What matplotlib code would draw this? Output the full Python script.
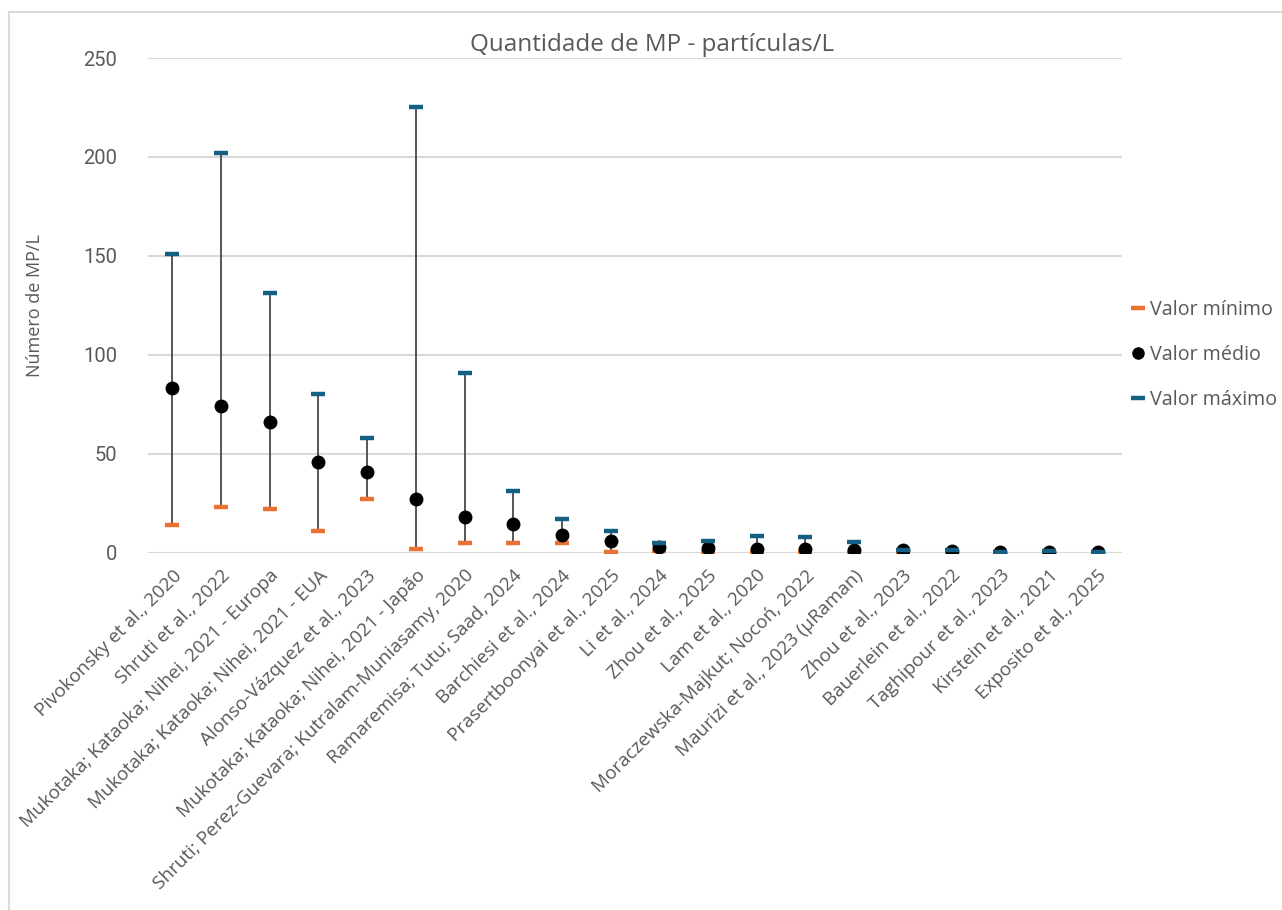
import matplotlib
matplotlib.use("Agg")
import matplotlib.pyplot as plt
from matplotlib.lines import Line2D
from matplotlib.patches import Rectangle

# Studies (one per category)
studies = [
    "Pivokonsky et al., 2020",
    "Shruti et al., 2022",
    "Mukotaka; Kataoka; Nihei, 2021 - Europa",
    "Mukotaka; Kataoka; Nihei, 2021 - EUA",
    "Alonso-Vázquez et al., 2023",
    "Mukotaka; Kataoka; Nihei, 2021 - Japão",
    "Shruti; Perez-Guevara; Kutralam-Muniasamy, 2020",
    "Ramaremisa; Tutu; Saad, 2024",
    "Barchiesi et al., 2024",
    "Prasertboonyai et al., 2025",
    "Li et al., 2024",
    "Zhou et al., 2025",
    "Lam et al., 2020",
    "Moraczewska-Majkut; Nocoń, 2022",
    "Maurizi et al., 2023 (µRaman)",
    "Zhou et al., 2023",
    "Bauerlein et al., 2022",
    "Taghipour et al., 2023",
    "Kirstein et al., 2021",
    "Exposito et al., 2025",
]

# MP particles per litre
valor_minimo = [14, 23, 22, 11, 27, 2, 5, 5, 5, 0.5, 1, 0.5, 0.2, 0.2, 0.2, 0.5, 0.5, 0.1, 0.1, 0.05]
valor_medio = [83, 74, 66, 46, 40.5, 27.3, 18, 14.3, 9, 6, 3, 2.5, 2, 2, 1.2, 1.3, 1, 0.3, 0.5, 0.2]
valor_maximo = [151, 202, 131, 80, 58, 225, 91, 31, 17, 11, 5, 5.8, 8.2, 8, 5.3, 1.5, 1.3, 0.3, 1, 0.3]

y_ticks = [0, 50, 100, 150, 200, 250]

TEXT = "#595959"
ORANGE = "#E97132"
BLUE = "#156082"

fig = plt.figure(figsize=(12.82, 9.10), dpi=100)
fig.patches.append(Rectangle((9 / 1282, -0.01), 1.02, 1 - 12 / 910 + 0.01,
                             transform=fig.transFigure, fill=False,
                             edgecolor="#d9d9d9", linewidth=1.5))

ax = fig.add_axes([148 / 1282, 1 - 552.5 / 910, 974 / 1282, (552.5 - 58) / 910])

x = list(range(len(studies)))

# range lines from minimum to maximum
ax.vlines(x, valor_minimo, valor_maximo, color="#3a3a3a", linewidth=1.2, zorder=3)

ax.plot(x, valor_minimo, linestyle="none", marker="_", markersize=10,
        markeredgewidth=3.2, color=ORANGE, zorder=4, label="Valor mínimo")
ax.plot(x, valor_medio, linestyle="none", marker="o", markersize=9,
        color="black", zorder=5, label="Valor médio")
ax.plot(x, valor_maximo, linestyle="none", marker="_", markersize=10,
        markeredgewidth=3.2, color=BLUE, zorder=6, label="Valor máximo")

ax.set_xlim(-0.5, len(studies) - 0.5)
ax.set_ylim(0, 250)
ax.set_yticks(y_ticks)
ax.set_yticklabels([str(v) for v in y_ticks], fontsize=14.5, color=TEXT,
                   fontfamily="Roboto")
ax.grid(axis="y", color="#d9d9d9", linewidth=1.5)
ax.set_axisbelow(True)
for s in ax.spines.values():
    s.set_visible(False)
ax.tick_params(axis="both", length=0)
ax.tick_params(axis="y", pad=22)

ax.set_xticks(x)
ax.set_xticklabels(studies, rotation=45, ha="right", rotation_mode="anchor",
                   fontsize=13.6, color=TEXT, fontfamily="Open Sans")
ax.tick_params(axis="x", pad=10)

ax.set_ylabel("Número de MP/L", fontsize=13, color=TEXT,
              fontfamily="Open Sans", labelpad=28)

fig.text(652 / 1282, 1 - 45 / 910, "Quantidade de MP - partículas/L",
         ha="center", va="center", fontsize=17.5, color=TEXT, fontfamily="Open Sans")

handles = [
    Line2D([], [], linestyle="none", marker="_", markersize=10,
           markeredgewidth=3.2, color=ORANGE),
    Line2D([], [], linestyle="none", marker="o", markersize=8, color="black"),
    Line2D([], [], linestyle="none", marker="_", markersize=10,
           markeredgewidth=3.2, color=BLUE),
]
leg = fig.legend(handles, ["Valor mínimo", "Valor médio", "Valor máximo"],
                 loc="center left", bbox_to_anchor=(1114 / 1282, 1 - 355 / 910),
                 frameon=False, handlelength=0.6, handletextpad=0.3,
                 labelspacing=1.25, prop={"family": "Open Sans", "size": 14.2})
for t in leg.get_texts():
    t.set_color(TEXT)

fig.savefig("out.png", dpi=100)
